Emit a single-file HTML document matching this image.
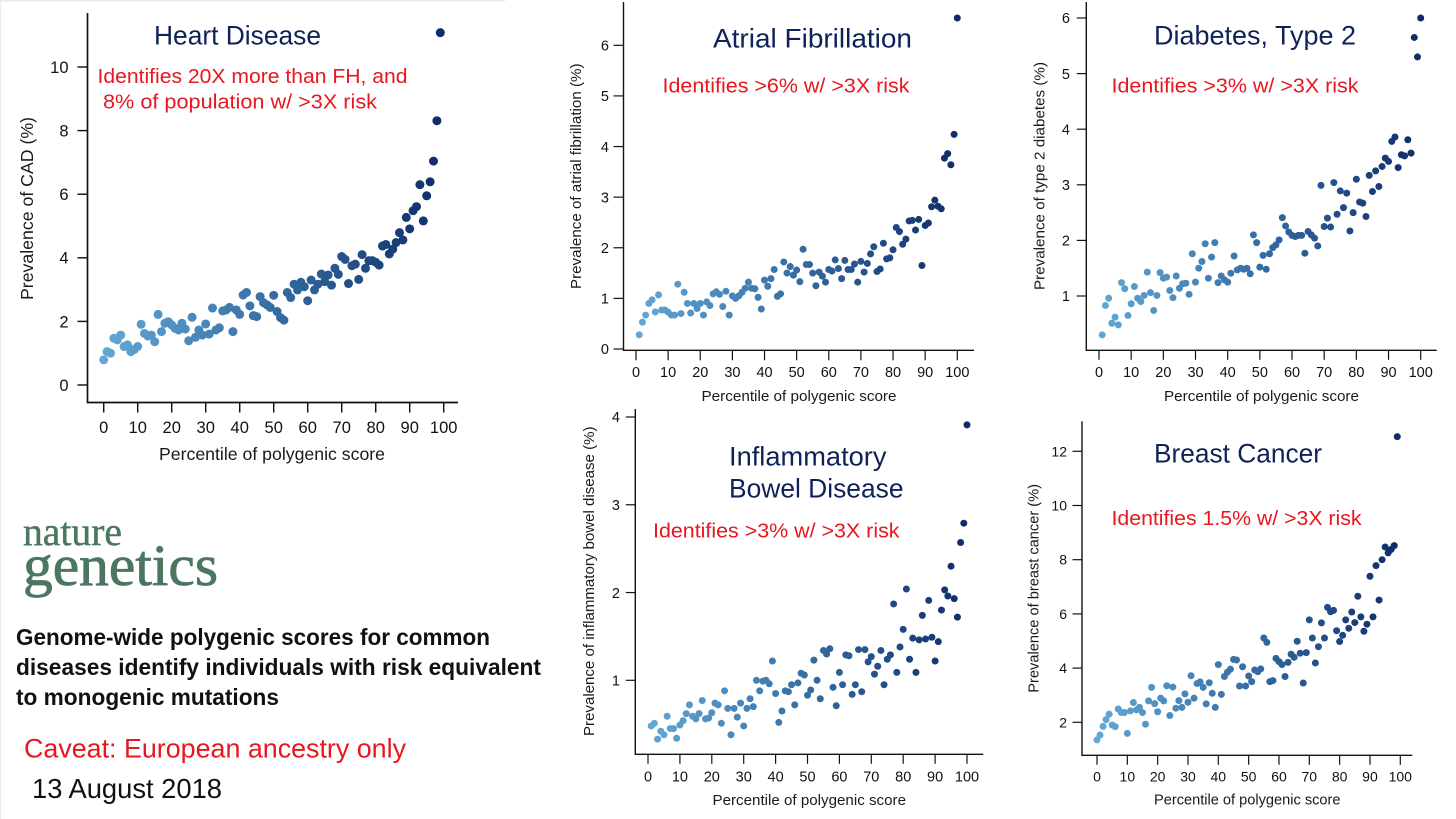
<!DOCTYPE html>
<html lang="en">
<head>
<meta charset="utf-8">
<title>Genome-wide polygenic scores for common diseases</title>
<style>
  html, body { margin: 0; padding: 0; background: #ffffff; }
  body { width: 1456px; height: 819px; overflow: hidden; }
  svg { display: block; font-family: "Liberation Sans", sans-serif; }
  .disease { font-size: 27px; fill: #0e2258; }
  .finding { font-size: 20px; fill: #e8161e; }
  .axis-title { font-size: 15px; fill: #1a1a1a; }
  .axis-title-large { font-size: 17.5px; fill: #1a1a1a; }
  .tick-text { fill: #111111; }
</style>
</head>
<body>
<svg id="figure" width="1456" height="819" viewBox="0 0 1456 819" xmlns="http://www.w3.org/2000/svg">
  <rect x="0" y="0" width="1456" height="819" fill="#ffffff"/>
  <rect x="0" y="0" width="505" height="1.5" fill="#e9e9e9"/>
  <rect x="0" y="0" width="1.2" height="819" fill="#ececec"/>

  <g id="chart-cad"></g>
  <g id="chart-afib"></g>
  <g id="chart-t2d"></g>
  <g id="chart-ibd"></g>
  <g id="chart-breast"></g>

  <!-- Heart disease labels -->
  <text class="disease" x="154" y="44.5" textLength="167" lengthAdjust="spacingAndGlyphs">Heart Disease</text>
  <text class="finding" x="97.5" y="83" textLength="310" lengthAdjust="spacingAndGlyphs">Identifies 20X more than FH, and</text>
  <text class="finding" x="103" y="108.7" textLength="274" lengthAdjust="spacingAndGlyphs">8% of population w/ &gt;3X risk</text>
  <text class="axis-title-large" x="159" y="460" textLength="226" lengthAdjust="spacingAndGlyphs">Percentile of polygenic score</text>
  <text class="axis-title-large" transform="translate(33,300) rotate(-90)" textLength="183" lengthAdjust="spacingAndGlyphs">Prevalence of CAD (%)</text>

  <!-- Atrial fibrillation labels -->
  <text class="disease" x="713" y="47.7" textLength="199" lengthAdjust="spacingAndGlyphs">Atrial Fibrillation</text>
  <text class="finding" x="662.5" y="92.7" textLength="247" lengthAdjust="spacingAndGlyphs">Identifies &gt;6% w/ &gt;3X risk</text>
  <text class="axis-title" x="701.5" y="401" textLength="195" lengthAdjust="spacingAndGlyphs">Percentile of polygenic score</text>
  <text class="axis-title" transform="translate(581,289) rotate(-90)" textLength="225.5" lengthAdjust="spacingAndGlyphs">Prevalence of atrial fibrillation (%)</text>

  <!-- Diabetes labels -->
  <text class="disease" x="1154" y="44.5" textLength="202" lengthAdjust="spacingAndGlyphs">Diabetes, Type 2</text>
  <text class="finding" x="1111.5" y="92.7" textLength="247" lengthAdjust="spacingAndGlyphs">Identifies &gt;3% w/ &gt;3X risk</text>
  <text class="axis-title" x="1164" y="401" textLength="195" lengthAdjust="spacingAndGlyphs">Percentile of polygenic score</text>
  <text class="axis-title" transform="translate(1044.5,290) rotate(-90)" textLength="228" lengthAdjust="spacingAndGlyphs">Prevalence of type 2 diabetes (%)</text>

  <!-- Inflammatory bowel disease labels -->
  <text class="disease" x="729" y="465.5" textLength="157.5" lengthAdjust="spacingAndGlyphs">Inflammatory</text>
  <text class="disease" x="729" y="497.7" textLength="174.5" lengthAdjust="spacingAndGlyphs">Bowel Disease</text>
  <text class="finding" x="653" y="537.3" textLength="246.5" lengthAdjust="spacingAndGlyphs">Identifies &gt;3% w/ &gt;3X risk</text>
  <text class="axis-title" x="712.5" y="805" textLength="193.5" lengthAdjust="spacingAndGlyphs">Percentile of polygenic score</text>
  <text class="axis-title" transform="translate(594,736) rotate(-90)" textLength="309.5" lengthAdjust="spacingAndGlyphs">Prevalence of inflammatory bowel disease (%)</text>

  <!-- Breast cancer labels -->
  <text class="disease" x="1154" y="462.3" textLength="168" lengthAdjust="spacingAndGlyphs">Breast Cancer</text>
  <text class="finding" x="1111.5" y="525" textLength="250" lengthAdjust="spacingAndGlyphs">Identifies 1.5% w/ &gt;3X risk</text>
  <text class="axis-title" x="1154" y="804.3" textLength="186.5" lengthAdjust="spacingAndGlyphs">Percentile of polygenic score</text>
  <text class="axis-title" transform="translate(1038.3,692.7) rotate(-90)" textLength="208.7" lengthAdjust="spacingAndGlyphs">Prevalence of breast cancer (%)</text>

  <!-- Left column text -->
  <text x="23" y="545" font-family="'Liberation Serif', serif" font-size="40" fill="#4b7660" stroke="#4b7660" stroke-width="0.4" textLength="99" lengthAdjust="spacingAndGlyphs">nature</text>
  <text x="23" y="585" font-family="'Liberation Serif', serif" font-size="58" fill="#4b7660" stroke="#4b7660" stroke-width="0.8" textLength="195" lengthAdjust="spacingAndGlyphs">genetics</text>
  <text x="16" y="645" font-size="23.5" font-weight="bold" fill="#111111" textLength="474" lengthAdjust="spacingAndGlyphs">Genome-wide polygenic scores for common</text>
  <text x="16" y="675" font-size="23.5" font-weight="bold" fill="#111111" textLength="525" lengthAdjust="spacingAndGlyphs">diseases identify individuals with risk equivalent</text>
  <text x="16" y="705" font-size="23.5" font-weight="bold" fill="#111111" textLength="263" lengthAdjust="spacingAndGlyphs">to monogenic mutations</text>
  <text x="24" y="757.5" font-size="27" fill="#e8161e" textLength="382" lengthAdjust="spacingAndGlyphs">Caveat: European ancestry only</text>
  <text x="32" y="798" font-size="28" fill="#111111" textLength="190" lengthAdjust="spacingAndGlyphs">13 August 2018</text>
</svg>

<script>
const percentilesFromZero = [0,1,2,3,4,5,6,7,8,9,10,11,12,13,14,15,16,17,18,19,20,21,22,23,24,25,26,27,28,29,30,31,32,33,34,35,36,37,38,39,40,41,42,43,44,45,46,47,48,49,50,51,52,53,54,55,56,57,58,59,60,61,62,63,64,65,66,67,68,69,70,71,72,73,74,75,76,77,78,79,80,81,82,83,84,85,86,87,88,89,90,91,92,93,94,95,96,97,98,99];
const percentilesFromOne = [1,2,3,4,5,6,7,8,9,10,11,12,13,14,15,16,17,18,19,20,21,22,23,24,25,26,27,28,29,30,31,32,33,34,35,36,37,38,39,40,41,42,43,44,45,46,47,48,49,50,51,52,53,54,55,56,57,58,59,60,61,62,63,64,65,66,67,68,69,70,71,72,73,74,75,76,77,78,79,80,81,82,83,84,85,86,87,88,89,90,91,92,93,94,95,96,97,98,99,100];

const xTickLabels = [0,10,20,30,40,50,60,70,80,90,100];
const cadYTicks = [0,2,4,6,8,10];
const afibYTicks = [0,1,2,3,4,5,6];
const t2dYTicks = [1,2,3,4,5,6];
const ibdYTicks = [1,2,3,4];
const breastYTicks = [2,4,6,8,10,12];

const cadValues = [0.79,1.05,1.0,1.47,1.42,1.57,1.21,1.26,1.05,1.12,1.21,1.91,1.62,1.54,1.57,1.36,2.22,1.68,1.94,1.99,1.89,1.78,1.73,1.94,1.76,1.39,2.13,1.5,1.73,1.57,1.92,1.6,2.42,1.73,1.8,2.33,2.36,2.44,1.68,2.36,2.22,2.83,2.91,2.49,2.18,2.15,2.78,2.59,2.52,2.44,2.82,2.31,2.12,2.04,2.91,2.75,3.17,2.99,3.23,3.09,2.65,3.3,2.99,3.17,3.49,3.25,3.46,3.14,3.67,3.48,4.04,3.95,3.19,3.75,3.8,3.32,4.1,3.67,3.91,3.91,3.86,3.77,4.37,4.42,4.12,4.27,4.48,4.79,4.56,5.27,4.91,5.48,5.61,6.3,5.16,5.95,6.39,7.04,8.31,11.08];

const afibValues = [0.28,0.53,0.67,0.9,0.97,0.73,1.07,0.77,0.77,0.73,0.67,0.67,1.28,0.7,1.12,0.9,0.71,0.9,0.8,0.9,0.67,0.93,0.86,1.09,1.13,1.08,0.84,1.14,0.67,1.05,1.0,1.05,1.12,1.2,1.32,1.2,1.19,1.02,0.79,1.36,1.24,1.39,1.57,1.04,1.09,1.72,1.5,1.63,1.46,1.56,1.33,1.97,1.67,1.67,1.5,1.25,1.52,1.44,1.32,1.57,1.54,1.76,1.59,1.39,1.75,1.57,1.57,1.68,1.32,1.73,1.52,1.69,1.88,2.02,1.53,1.58,2.09,1.78,1.8,1.96,2.4,2.32,2.07,2.17,2.53,2.54,2.35,2.56,1.65,2.44,2.49,2.81,2.94,2.82,2.77,3.77,3.86,3.64,4.24,6.54];

const t2dValues = [0.3,0.83,0.96,0.51,0.62,0.48,1.24,1.13,0.65,0.86,1.17,0.96,0.9,1.01,1.43,1.06,0.74,1.01,1.42,1.32,1.34,1.1,0.97,1.36,1.14,1.22,1.23,1.03,1.76,1.25,1.5,1.62,1.94,1.32,1.7,1.96,1.24,1.36,1.29,1.25,1.41,1.72,1.47,1.5,1.48,1.5,1.4,2.1,1.96,1.52,1.73,1.48,1.76,1.87,1.92,2.01,2.41,2.26,2.15,2.09,2.07,2.09,2.09,1.77,2.16,2.1,2.04,1.9,2.99,2.25,2.4,2.24,3.04,2.47,2.89,2.59,2.85,2.17,2.5,3.1,2.69,2.67,2.43,3.17,2.88,3.25,2.97,3.33,3.48,3.42,3.78,3.86,3.31,3.54,3.52,3.81,3.57,5.65,5.3,6.0];

const ibdValues = [0.48,0.51,0.33,0.42,0.38,0.59,0.45,0.45,0.34,0.49,0.54,0.62,0.72,0.59,0.56,0.62,0.77,0.56,0.57,0.63,0.74,0.72,0.51,0.88,0.68,0.38,0.68,0.58,0.74,0.48,0.68,0.79,0.7,1.0,0.88,0.99,1.0,0.96,1.22,0.85,0.52,0.65,0.88,0.87,0.95,0.72,0.97,1.08,1.06,0.83,0.89,1.23,1.0,0.79,1.34,1.3,1.36,0.92,0.71,1.09,0.95,1.29,1.28,0.84,0.95,1.35,0.87,1.35,1.21,1.27,1.07,1.16,1.34,0.95,1.24,1.29,1.87,1.09,1.38,1.58,2.04,1.24,1.48,1.09,1.46,1.74,1.47,1.91,1.49,1.22,1.44,1.8,2.03,1.96,2.3,1.93,1.72,2.57,2.79,3.91];

const breastValues = [1.35,1.53,1.85,2.1,2.3,1.9,1.84,2.49,2.36,2.36,1.59,2.42,2.73,2.46,2.55,2.36,1.93,2.79,3.29,2.69,2.39,2.89,2.79,3.35,2.25,3.3,2.52,2.8,2.55,3.05,2.74,3.72,2.89,3.43,3.49,3.29,2.68,3.46,3.07,2.55,4.13,3.03,3.69,3.85,3.96,4.32,4.3,3.34,4.05,3.34,3.71,3.5,3.93,3.87,3.97,5.11,4.95,3.5,3.54,4.36,4.24,4.13,3.69,4.21,4.51,4.4,4.99,4.55,3.45,4.57,5.78,5.11,4.19,4.79,5.67,5.11,6.24,6.08,6.13,5.38,4.98,5.21,5.78,5.47,6.07,5.68,6.65,5.89,5.36,5.62,7.39,5.89,7.78,6.51,8.0,8.47,8.25,8.38,8.52,12.54];

var SVG_NS = 'http://www.w3.org/2000/svg';

function shade(p) {
  var a, b, t;
  var light = [98, 168, 214], mid = [54, 109, 164], dark = [14, 44, 104];
  if (p <= 50) { a = light; b = mid; t = p / 50; } else { a = mid; b = dark; t = (p - 50) / 50; }
  return 'rgb(' + Math.round(a[0] + (b[0] - a[0]) * t) + ',' + Math.round(a[1] + (b[1] - a[1]) * t) + ',' + Math.round(a[2] + (b[2] - a[2]) * t) + ')';
}

function make(parent, tag, attrs) {
  var el = document.createElementNS(SVG_NS, tag);
  for (var k in attrs) { el.setAttribute(k, attrs[k]); }
  parent.appendChild(el);
  return el;
}

function drawChart(cfg, xs, ys, yTicks) {
  var g = document.getElementById(cfg.id);
  var xScale = function (v) { return cfg.x0 + (v / 100) * (cfg.x100 - cfg.x0); };
  var yScale = function (v) { return cfg.yA + (v - cfg.vA) / (cfg.vB - cfg.vA) * (cfg.yB - cfg.yA); };

  var yAxis = make(g, 'line', { x1: cfg.axisX, x2: cfg.axisX, y1: cfg.axisTop, y2: cfg.axisBottom + cfg.lw / 2, stroke: '#111', 'stroke-width': cfg.lw });
  
  
  var xAxis = make(g, 'line', { x1: cfg.axisX, x2: cfg.axisRight, y1: cfg.axisBottom, y2: cfg.axisBottom, stroke: '#111', 'stroke-width': cfg.lw });
  
  

  xTickLabels.forEach(function (t) {
    var px = xScale(t);
    var tick = make(g, 'line', { x1: px, x2: px, y1: cfg.axisBottom, y2: cfg.axisBottom + cfg.tickLen, stroke: '#111', 'stroke-width': cfg.lw * 0.85 });
    
    
    var label = make(g, 'text', { x: px, y: cfg.xLabelY, 'text-anchor': 'middle', 'font-size': cfg.tickFont, 'class': 'tick-text' });
    
    
    label.textContent = t;
  });

  yTicks.forEach(function (t) {
    var py = yScale(t);
    var tick = make(g, 'line', { x1: cfg.axisX - cfg.tickLen, x2: cfg.axisX, y1: py, y2: py, stroke: '#111', 'stroke-width': cfg.lw * 0.85 });
    
    
    var label = make(g, 'text', { x: cfg.yLabelX, y: py + cfg.tickFont * 0.36, 'text-anchor': 'end', 'font-size': cfg.tickFont, 'class': 'tick-text' });
    
    
    label.textContent = t;
  });

  ys.forEach(function (v, i) {
    var dot = make(g, 'circle', { cx: xScale(xs[i]), cy: yScale(v), r: cfg.r, fill: shade(xs[i]) });
    
    
  });
}

drawChart({ id: 'chart-cad', x0: 103.7, x100: 443.7, vA: 0, yA: 385, vB: 10, yB: 67, axisX: 87.5, axisTop: 13, axisBottom: 402.5, axisRight: 458, tickLen: 10, lw: 1.7, tickFont: 16.5, xLabelY: 433, yLabelX: 68.5, r: 4.5 }, percentilesFromZero, cadValues, cadYTicks);
drawChart({ id: 'chart-afib', x0: 636, x100: 957.3, vA: 0, yA: 349, vB: 6, yB: 45.3, axisX: 623.5, axisTop: 2, axisBottom: 350.3, axisRight: 974, tickLen: 10, lw: 1.4, tickFont: 14.5, xLabelY: 377, yLabelX: 609, r: 3.5 }, percentilesFromOne, afibValues, afibYTicks);
drawChart({ id: 'chart-t2d', x0: 1099, x100: 1420.7, vA: 1, yA: 296, vB: 6, yB: 18, axisX: 1086.3, axisTop: 2, axisBottom: 350.3, axisRight: 1436.7, tickLen: 9.5, lw: 1.4, tickFont: 14.5, xLabelY: 377, yLabelX: 1070, r: 3.5 }, percentilesFromOne, t2dValues, t2dYTicks);
drawChart({ id: 'chart-ibd', x0: 648, x100: 967, vA: 1, yA: 680.3, vB: 4, yB: 417, axisX: 635.3, axisTop: 409, axisBottom: 754.3, axisRight: 983.3, tickLen: 9.5, lw: 1.4, tickFont: 14.5, xLabelY: 781.7, yLabelX: 620, r: 3.5 }, percentilesFromOne, ibdValues, ibdYTicks);
drawChart({ id: 'chart-breast', x0: 1097, x100: 1400.3, vA: 2, yA: 722.3, vB: 12, yB: 451.3, axisX: 1082, axisTop: 421.3, axisBottom: 755.3, axisRight: 1412.3, tickLen: 9.5, lw: 1.4, tickFont: 14, xLabelY: 781.7, yLabelX: 1067, r: 3.5 }, percentilesFromZero, breastValues, breastYTicks);
</script>
</body>
</html>
